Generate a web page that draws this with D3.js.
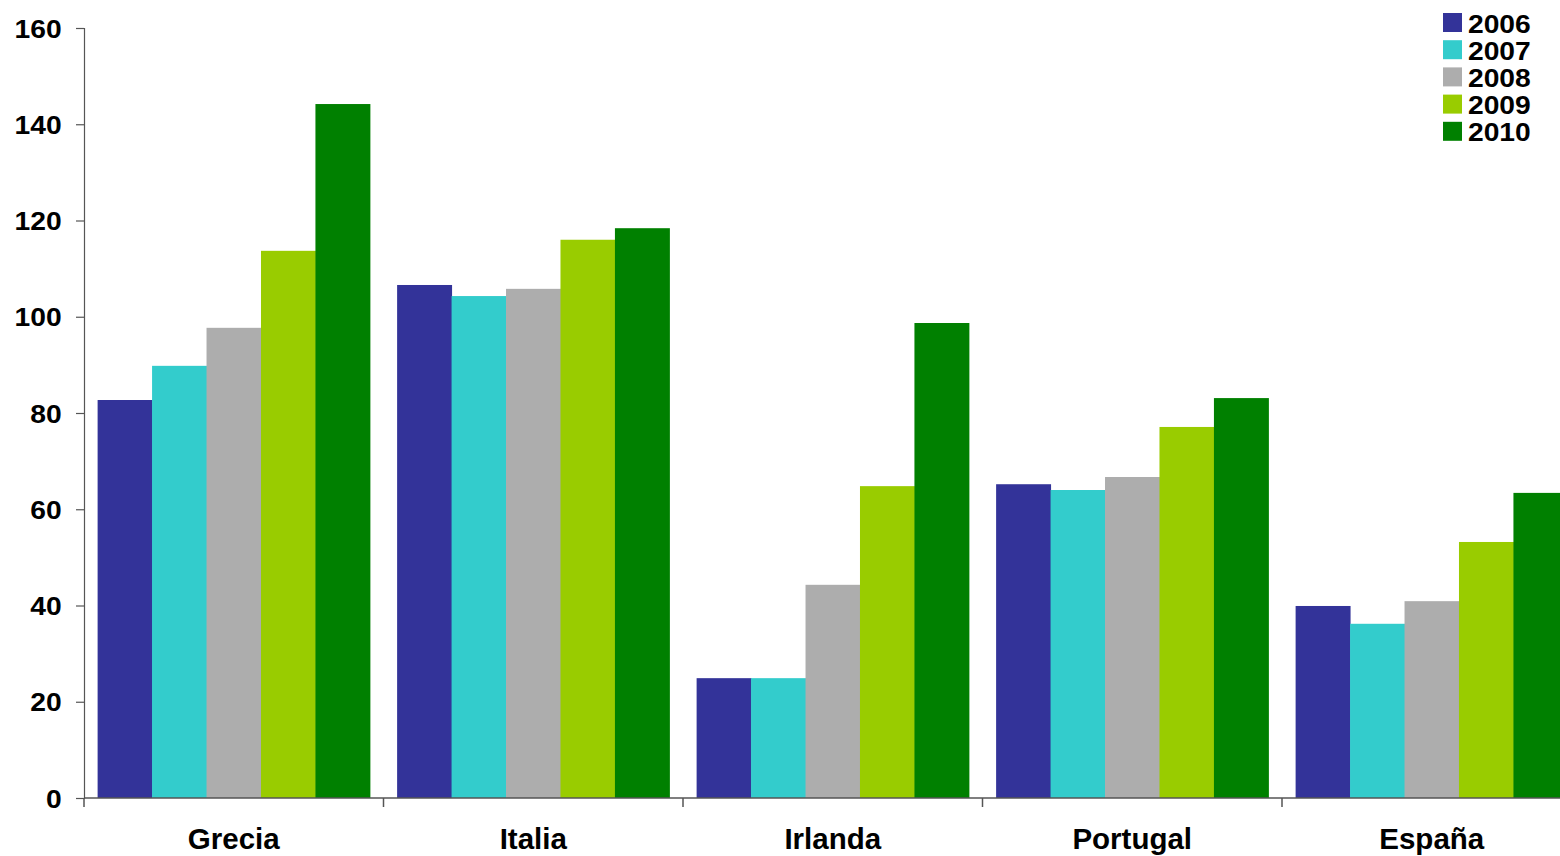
<!DOCTYPE html>
<html>
<head>
<meta charset="utf-8">
<script src="https://cdn.jsdelivr.net/npm/d3@7"></script>
<style>
body { margin: 0; background: #fff; }
svg { display: block; }
text { font-family: "Liberation Sans", Arial, sans-serif; font-weight: bold; fill: #000; }
</style>
</head>
<body>
<svg width="1560" height="856"></svg>
<script>
var countries = ['Grecia', 'Italia', 'Irlanda', 'Portugal', 'España'];
var years = ['2006', '2007', '2008', '2009', '2010'];
var colors = ['#333399', '#33cccc', '#adadad', '#99cc00', '#008000'];
var yTicks = [0, 20, 40, 60, 80, 100, 120, 140, 160];

// deuda publica, % PIB, por pais y año
var v2006 = [82.7, 106.6, 24.9, 65.2, 39.9];
var v2007 = [89.8, 104.3, 24.9, 64.0, 36.2];
var v2008 = [97.7, 105.8, 44.3, 66.7, 40.9];
var v2009 = [113.7, 116.0, 64.8, 77.1, 53.2];
var v2010 = [144.2, 118.4, 98.7, 83.1, 63.4];
var series = [v2006, v2007, v2008, v2009, v2010];

var svg = d3.select('svg');
var mLeft = 84, mTop = 28, mBottom = 798, bandW = 299.5, sx = 1.065;

var x = d3.scaleBand().domain(countries).range([mLeft, mLeft + bandW * countries.length]).paddingInner(0).paddingOuter(0);
var xs = d3.scaleBand().domain(years).range([0, x.bandwidth()]).paddingInner(0).paddingOuter(0.25);
var y = d3.scaleLinear().domain([0, 160]).range([mBottom, mTop]);

var rows = [];
countries.forEach(function(c, i) {
	years.forEach(function(yr, j) {
		rows.push({c: c, yr: yr, v: series[j][i], col: colors[j]});
	});
});

svg.append('g').selectAll('rect').data(rows).enter().append('rect')
	.attr('x', function(d){ return x(d.c) + xs(d.yr); })
	.attr('y', function(d){ return y(d.v); })
	.attr('width', xs.bandwidth() + 0.5)
	.attr('height', function(d){ return mBottom - y(d.v); })
	.attr('fill', function(d){ return d.col; });

// eje y
var yAxis = svg.append('g').attr('transform', 'translate(' + mLeft + ',0)')
	.call(d3.axisLeft(y).tickValues(yTicks).tickSize(8).tickPadding(13));
yAxis.select('.domain').attr('stroke', '#555').attr('stroke-width', 1.2);
yAxis.selectAll('.tick line').attr('stroke', '#555').attr('stroke-width', 1.2);
yAxis.selectAll('.tick text').style('font-size', '26.5px').attr('dy', '0.34em')
	.attr('transform', 'scale(' + sx + ',1)');

// eje x
var bounds = d3.range(countries.length + 1).map(function(i){ return mLeft + i * bandW; });
var xAxis = svg.append('g');
xAxis.append('line').attr('x1', mLeft).attr('x2', 1560).attr('y1', mBottom).attr('y2', mBottom)
	.attr('stroke', '#555').attr('stroke-width', 1.5);
xAxis.selectAll('line.tk').data(bounds).enter().append('line').attr('class', 'tk')
	.attr('x1', function(d){ return d; }).attr('x2', function(d){ return d; })
	.attr('y1', mBottom).attr('y2', mBottom + 9)
	.attr('stroke', '#555').attr('stroke-width', 1.5);
xAxis.selectAll('text').data(countries).enter().append('text')
	.attr('x', function(d){ return x(d) + x.bandwidth() / 2; })
	.attr('y', 849)
	.attr('text-anchor', 'middle')
	.style('font-size', '29.5px')
	.text(function(d){ return d; });

// leyenda
var leg = svg.append('g').selectAll('g').data(years).enter().append('g')
	.attr('transform', function(d, i){ return 'translate(1443,' + (13 + i * 27.2) + ')'; });
leg.append('rect').attr('width', 19).attr('height', 19).attr('fill', function(d, i){ return colors[i]; });
leg.append('text').attr('x', 25 / sx).attr('y', 19.5).style('font-size', '26.5px')
	.attr('transform', 'scale(' + sx + ',1)')
	.text(function(d){ return d; });
</script>
</body>
</html>
